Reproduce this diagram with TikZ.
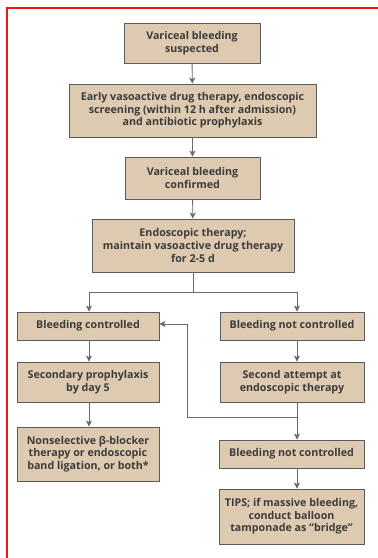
\documentclass[tikz,border=0pt]{standalone}
\usepackage{fontspec}
\setmainfont{Open Sans}
\usetikzlibrary{arrows.meta}
\definecolor{boxfill}{RGB}{222,202,176}
\definecolor{boxline}{RGB}{90,90,90}
\definecolor{txt}{RGB}{60,60,60}
\definecolor{flow}{RGB}{105,105,105}
\definecolor{frame}{RGB}{240,20,20}
\tikzset{
  stepbox/.style={draw=boxline, line width=0.9pt, fill=boxfill, align=center,
    text=txt, font=\bfseries\fontsize{10.7}{12.6}\selectfont, inner sep=0pt},
  flowline/.style={draw=flow, line width=0.9pt},
  flowarrow/.style={flowline, -{Stealth[length=6pt,width=6pt,inset=1.5pt]}},
}
\begin{document}
\begin{tikzpicture}[x=1pt,y=-1pt]
\useasboundingbox (0,0) rectangle (378,558);
\fill[white] (0,0) rectangle (378,558);
% frame
\draw[frame, line width=2pt] (7,560) -- (7,8) -- (380,8);

\node[stepbox, minimum width=136, minimum height=40] (n1) at (192,43)
  {Variceal bleeding\\suspected};
\node[stepbox, minimum width=247, minimum height=53] (n2) at (192.5,110.5)
  {Early vasoactive drug therapy, endoscopic\\screening (within 12 h after admission)\\and antibiotic prophylaxis};
\node[stepbox, minimum width=135, minimum height=42] (n3) at (192.5,178)
  {Variceal bleeding\\confirmed};
\node[stepbox, minimum width=202, minimum height=53] (n4) at (193,245.5)
  {Endoscopic therapy;\\maintain vasoactive drug therapy\\for 2-5 d};

\node[stepbox, minimum width=142, minimum height=28] (bc) at (88,326)
  {Bleeding controlled};
\node[stepbox, minimum width=144, minimum height=28] (bnc) at (292,326)
  {Bleeding not controlled};
\node[stepbox, minimum width=142, minimum height=40] (sp) at (88,382)
  {Secondary prophylaxis\\by day 5};
\node[stepbox, minimum width=144, minimum height=40] (sa) at (292,382)
  {Second attempt at\\endoscopic therapy};
\node[stepbox, minimum width=142, minimum height=54] (nsb) at (88,454)
  {Nonselective β-blocker\\therapy or endoscopic\\band ligation, or both*};
\node[stepbox, minimum width=145, minimum height=28] (bnc2) at (291.5,454)
  {Bleeding not controlled};
\node[stepbox, minimum width=145, minimum height=55] (tips) at (291.5,516.5)
  {TIPS; if massive bleeding,\\conduct balloon\\tamponade as “bridge”};

% main chain
\draw[flowarrow] (n1) -- (n2);
\draw[flowarrow] (n2) -- (n3);
\draw[flowarrow] (n3) -- (n4);

% split
\coordinate (split) at (193,292);
\draw[flowline] (n4.south) -- (split);
\draw[flowarrow] (split) -| (bc.north -| 89,0);
\draw[flowarrow] (split) -| (bnc.north -| 297,0);

% left column
\draw[flowarrow] (bc.south -| 89,0) -- (sp.north -| 89,0);
\draw[flowarrow] (sp.south -| 89,0) -- (nsb.north -| 89,0);

% right column
\draw[flowarrow] (bnc.south -| 297,0) -- (sa.north -| 297,0);
\coordinate (join) at (297,417);
\draw[flowarrow] (sa.south -| 297,0) -- (bnc2.north -| 297,0);
\draw[flowarrow] (join) -- (187,417) -- (187,324) -- (bc.east |- 0,324);
\draw[flowarrow] (bnc2.south -| 297,0) -- (tips.north -| 297,0);
\end{tikzpicture}
\end{document}
